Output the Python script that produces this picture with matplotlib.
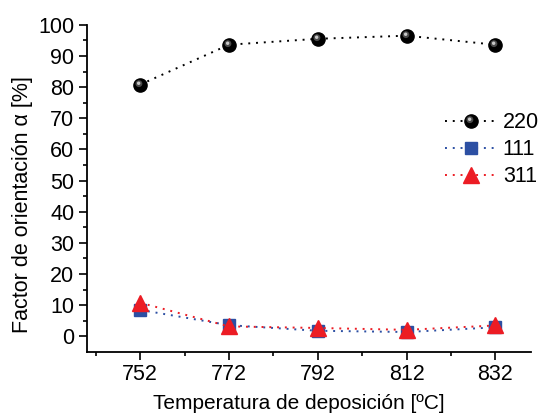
import matplotlib.pyplot as plt
import numpy as np
from matplotlib.path import Path
from matplotlib.legend_handler import HandlerTuple

plt.rcParams['font.family'] = ['Liberation Sans', 'DejaVu Sans']

temps = [752, 772, 792, 812, 832]
alpha_220 = [80.8, 93.6, 95.5, 96.5, 93.6]
alpha_111 = [8.5, 3.6, 1.8, 1.4, 2.9]
alpha_311 = [10.8, 3.2, 2.7, 2.1, 3.5]

blue = '#2c4fa3'
red = '#ec1c24'
dots = (0, (1, 3))

sphere_ms = 9.5


def shine(cx, cy, r):
    # offset circle inside the sphere; returns the path and the markersize
    # that keeps it at the right scale (matplotlib rescales custom paths)
    c = Path.circle(center=(cx, cy), radius=r)
    m = np.max(np.abs(c.vertices))
    return c, 2 * m * sphere_ms


fig = plt.figure(figsize=(5.4, 4.2), dpi=100)
ax = fig.add_axes([0.161, 0.162, 0.822, 0.779])

l1, = ax.plot(temps, alpha_220, ls=dots, color='black', lw=1.4, marker='o',
              ms=sphere_ms, mfc='black', mec='black', zorder=3)
p1, s1 = shine(-0.12, 0.14, 0.26)
h1, = ax.plot(temps, alpha_220, ls='none', marker=p1, ms=s1, mfc='#4a4a4a',
              mec='none', zorder=4)
p2, s2 = shine(-0.14, 0.17, 0.13)
h2, = ax.plot(temps, alpha_220, ls='none', marker=p2, ms=s2, mfc='#c8c8c8',
              mec='none', zorder=5)

l2, = ax.plot(temps, alpha_111, ls=dots, color=blue, lw=1.4, marker='s', ms=9,
              mfc=blue, mec=blue, zorder=3)
l3, = ax.plot(temps, alpha_311, ls=dots, color=red, lw=1.4, marker='^', ms=11,
              mfc=red, mec=red, zorder=4)

ax.set_xlim(740, 840)
ax.set_ylim(-5, 100)
ax.set_xticks(temps)
ax.set_xticks([742, 762, 782, 802, 822], minor=True)
ax.set_yticks(np.arange(0, 101, 10))
ax.set_yticks(np.arange(5, 100, 10), minor=True)

for s in ['top', 'right']:
    ax.spines[s].set_visible(False)
for s in ['left', 'bottom']:
    ax.spines[s].set_linewidth(1.3)

ax.tick_params(axis='both', which='major', direction='out', length=6, width=1.2,
               labelsize=15.5)
ax.tick_params(axis='both', which='minor', direction='out', length=3, width=1.2)
ax.tick_params(axis='x', pad=2.5)
ax.tick_params(axis='y', pad=3)

ax.set_xlabel('Temperatura de deposición [ºC]', fontsize=15)
ax.xaxis.label.set_va('center')
ax.xaxis.set_label_coords(0.477, -0.157)
ax.set_ylabel('Factor de orientación α [%]', fontsize=15.5)
ax.yaxis.label.set_va('center')
ax.yaxis.set_label_coords(-0.146, 0.45)

leg = ax.legend([(l1, h1, h2), l2, l3], ['220', '111', '311'],
                handler_map={tuple: HandlerTuple(ndivide=1, pad=0)},
                loc='center left', bbox_to_anchor=(0.806, 0.618), frameon=False,
                fontsize=15.5, handlelength=2.4, handletextpad=0.3,
                labelspacing=0.28, borderaxespad=0, borderpad=0)

fig.savefig('out.png', dpi=100)
